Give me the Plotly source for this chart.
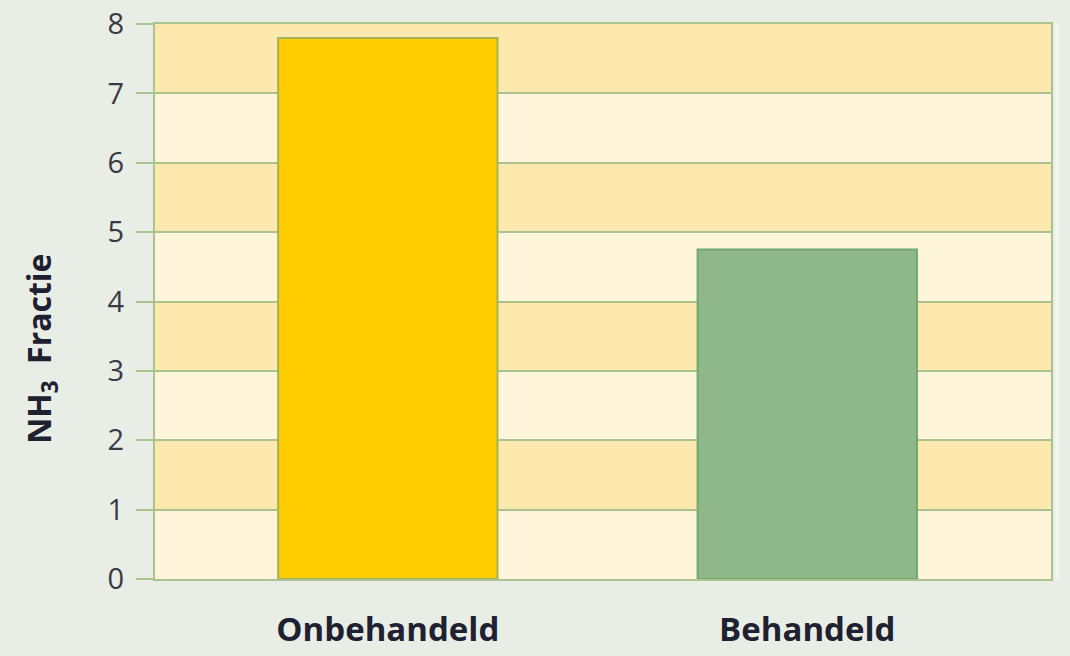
import plotly.graph_objects as go

categories = ["Onbehandeld", "Behandeld"]
values = [7.8, 4.75]
bar_colors = ["#ffcc00", "#8fb88a"]
bar_lines = ["#a3b35a", "#74a66f"]
y_ticks = [0, 1, 2, 3, 4, 5, 6, 7, 8]
y_title = "NH<sub>3</sub>&nbsp;&nbsp;Fractie"

fig = go.Figure()
fig.add_trace(go.Bar(
    x=[0, 1], y=values,
    marker=dict(color=bar_colors, line=dict(color=bar_lines, width=2)),
    width=0.523,
))

shapes = []
for i in range(len(y_ticks) - 1):
    shapes.append(dict(
        type="rect", xref="paper", yref="y", layer="below",
        x0=0, x1=1, y0=y_ticks[i], y1=y_ticks[i + 1],
        fillcolor="#fde9ae" if i % 2 == 1 else "#fef5da",
        line=dict(width=0),
    ))
shapes.append(dict(type="line", xref="paper", yref="paper", x0=1.007, x1=1.007, y0=0, y1=1,
                   line=dict(color="#f3f6f1", width=4), layer="above"))

grid = "#adc38f"
fig.update_layout(
    width=1070, height=656,
    margin=dict(l=155, r=19, t=24, b=77),
    paper_bgcolor="#e8eee6",
    plot_bgcolor="#fef5da",
    shapes=shapes,
    showlegend=False,
    font=dict(family="Open Sans", color="#3a3a40"),
    xaxis=dict(
        tickvals=[0, 1], ticktext=categories, automargin=False,
        showgrid=False, showline=True, linecolor=grid, linewidth=2, mirror=True,
        tickfont=dict(size=33, family="Open Sans", color="#1f2030", weight="bold"),
        ticks="", ticklabelstandoff=20, range=[-0.555, 1.581], zeroline=False,
    ),
    yaxis=dict(
        range=[0, 8], tickvals=y_ticks, automargin=False,
        showgrid=True, gridcolor=grid, gridwidth=2,
        showline=True, linecolor=grid, linewidth=2, mirror=True,
        ticks="outside", ticklen=17, tickcolor=grid, tickwidth=2,
        tickfont=dict(size=29, color="#3a3a44"),
        ticklabelstandoff=6,
        zeroline=False,
    ),
    annotations=[dict(
        text=y_title, textangle=-90, showarrow=False,
        xref="paper", yref="paper", x=(41 - 155) / 895, y=(579 - 349) / 555,
        xanchor="center", yanchor="middle",
        font=dict(size=32, family="Open Sans", color="#1f2030", weight="bold"),
    )],
)

fig.write_html("out.html", config={"displayModeBar": False},
               post_script="document.body.style.margin='0';document.body.style.background='#e8eee6';")
